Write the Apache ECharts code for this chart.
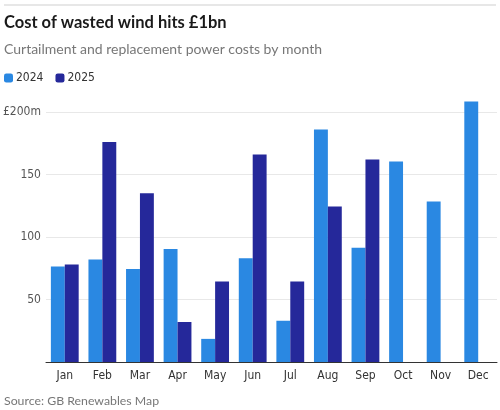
<!DOCTYPE html>
<html>
<head>
<meta charset="utf-8">
<script src="https://cdn.jsdelivr.net/npm/echarts@6/dist/echarts.min.js"></script>
<style>
  html, body { margin: 0; padding: 0; background: #fff; }
  #chart { width: 500px; height: 410px; }
</style>
</head>
<body>
<div id="chart"></div>
<script>
const months = ['Jan', 'Feb', 'Mar', 'Apr', 'May', 'Jun', 'Jul', 'Aug', 'Sep', 'Oct', 'Nov', 'Dec'];
const costs2024 = [76.5, 82, 74.5, 90.5, 18.5, 83, 33, 186, 91.5, 160.5, 128.5, 208.5];
const costs2025 = [78, 176, 135, 32, 64.5, 166, 64.5, 124.5, 162, null, null, null];
const yTicks = [0, 50, 100, 150, 200];

const axisFont = "'DejaVu Sans Condensed', 'Roboto', sans-serif";
const textFont = "'Lato', 'Inter', sans-serif";

const chart = echarts.init(document.getElementById('chart'));

const option = {
  animation: false,
  title: [
    {
      text: 'Cost of wasted wind hits £1bn',
      left: -1, top: 9,
      textStyle: {fontFamily: textFont, fontSize: 16.5, fontWeight: 'bold', color: '#1a1a1a'}
    },
    {
      text: 'Curtailment and replacement power costs by month',
      left: -1, top: 37,
      textStyle: {fontFamily: textFont, fontSize: 14, fontWeight: 'normal', color: '#777'}
    },
    {
      text: 'Source: GB Renewables Map',
      left: -1, top: 390,
      textStyle: {fontFamily: textFont, fontSize: 12.3, fontWeight: 'normal', color: '#777'}
    }
  ],
  graphic: [
    {
      type: 'line',
      shape: {x1: 4, y1: 5, x2: 496, y2: 5},
      style: {stroke: '#cfcfcf', lineWidth: 1}
    }
  ],
  legend: {
    left: -1, top: 67,
    itemWidth: 9, itemHeight: 9, itemGap: 12,
    icon: 'roundRect',
    textStyle: {fontFamily: axisFont, fontSize: 12, color: '#333', padding: [0, 0, 0, -2]},
    data: ['2024', '2025']
  },
  grid: {left: 42, right: 3, top: 112, bottom: 48, containLabel: false},
  xAxis: {
    type: 'category',
    data: months,
    axisTick: {show: false},
    axisLine: {lineStyle: {color: '#333', width: 1}},
    axisLabel: {fontFamily: axisFont, fontSize: 12, color: '#333', margin: 8}
  },
  yAxis: {
    type: 'value',
    min: yTicks[0],
    max: yTicks[yTicks.length - 1],
    interval: 50,
    axisLine: {show: false},
    axisTick: {show: false},
    splitLine: {lineStyle: {color: '#e8e8e8', width: 1}},
    axisLabel: {
      fontFamily: axisFont, fontSize: 12, color: '#555', margin: 5,
      formatter: v => v === 0 ? '' : (v === 200 ? '£200m' : String(v))
    }
  },
  series: [
    {
      name: '2024',
      type: 'bar',
      data: costs2024,
      clip: false,
      barGap: '0%',
      barCategoryGap: '26%',
      itemStyle: {color: '#2a88e2'}
    },
    {
      name: '2025',
      type: 'bar',
      data: costs2025,
      clip: false,
      itemStyle: {color: '#25289a'}
    }
  ]
};

chart.setOption(option);
</script>
</body>
</html>
